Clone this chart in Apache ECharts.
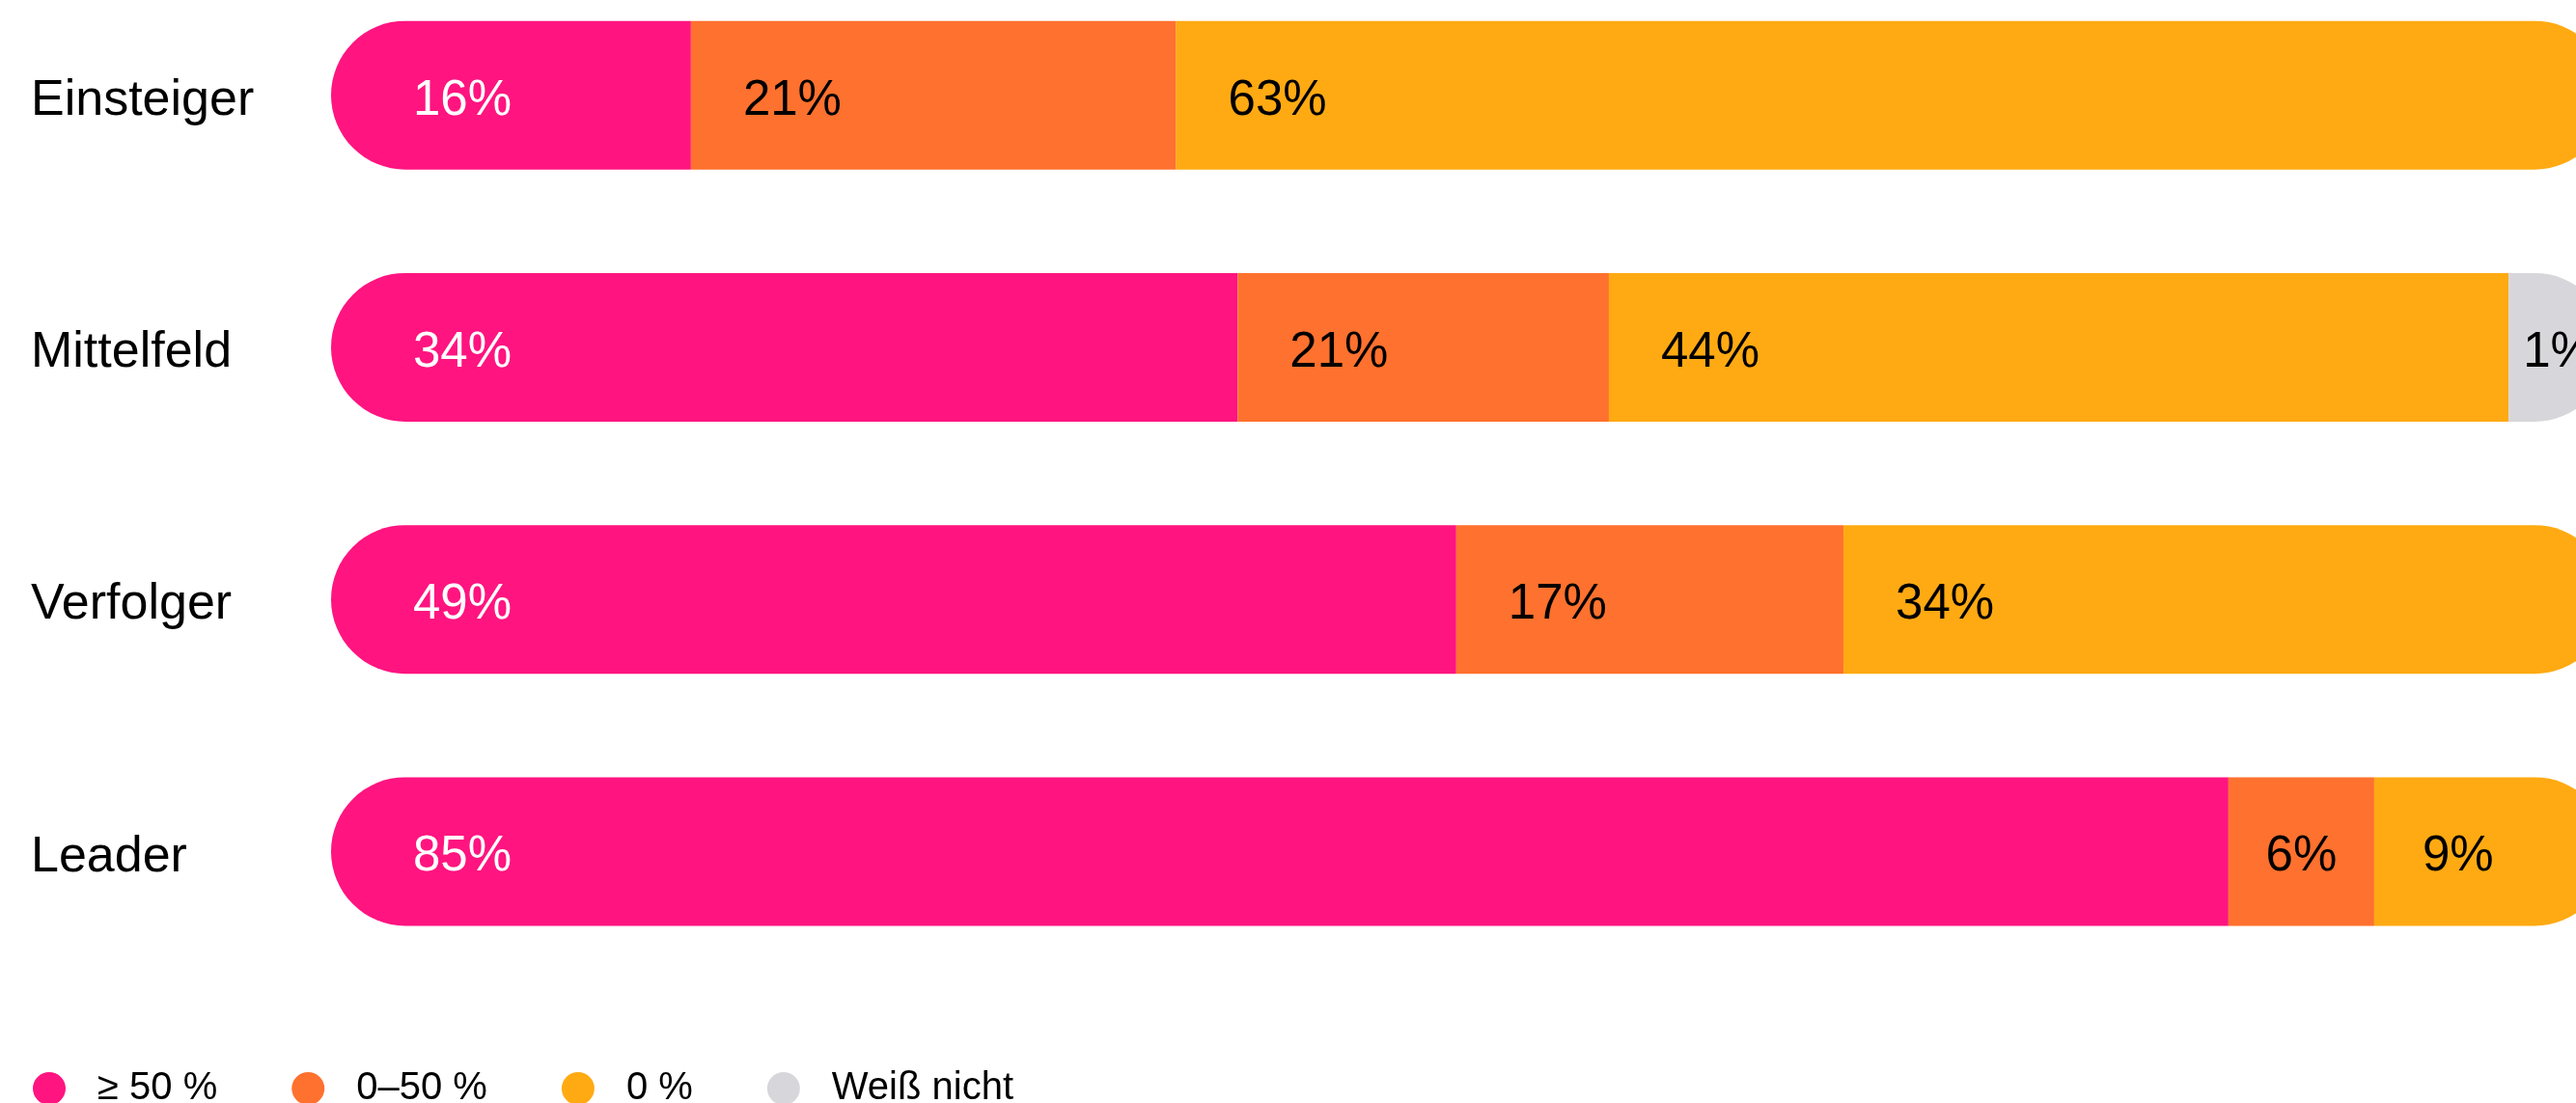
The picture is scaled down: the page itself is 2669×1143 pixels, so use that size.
<!DOCTYPE html>
<html>
<head>
<meta charset="utf-8">
<script src="https://cdn.jsdelivr.net/npm/echarts@6/dist/echarts.min.js"></script>
<style>
html,body{margin:0;padding:0;background:#fff;}
#c{width:2669px;height:1143px;}
</style>
</head>
<body>
<div id="c"></div>
<script>
// Categories (top to bottom)
const categories = ['Einsteiger', 'Mittelfeld', 'Verfolger', 'Leader'];
const seriesNames = ['≥ 50 %', '0–50 %', '0 %', 'Weiß nicht'];
const colors = ['#ff1480', '#ff712e', '#ffaa12', '#d7d6db'];

// Printed percentages (labels)
const pinkLabel   = [16, 34, 49, 85];
const orangeLabel = [21, 21, 17, 6];
const yellowLabel = [63, 44, 34, 9];
const greyLabel   = [null, 1, null, null];

// Segment lengths as drawn in the picture (share of bar, %)
const pinkLen   = [15.8, 39.8, 49.4, 83.3];
const orangeLen = [21.3, 16.3, 17.0, 6.4];
const yellowLen = [62.9, 39.5, 33.6, 10.3];
const greyLen   = [null, 4.4, null, null];

const R = 77;
const FONT = '"Liberation Sans", Arial, sans-serif';

function buildSeries(idx, lens, labels, textColor, dist) {
  const data = lens.map((v, i) => {
    if (v === null) return '-';
    const item = { value: v, label: { formatter: labels[i] + '%' } };
    const isFirst = idx === 0;
    const isLast = (idx === 3) || (idx === 2 && greyLen[i] === null);
    item.itemStyle = { borderRadius: [isFirst ? R : 0, isLast ? R : 0, isLast ? R : 0, isFirst ? R : 0] };
    return item;
  });
  return {
    name: seriesNames[idx],
    type: 'bar',
    stack: 'total',
    barWidth: 154,
    data: data,
    itemStyle: { color: colors[idx] },
    label: {
      show: true,
      position: 'insideLeft',
      distance: dist,
      offset: [0, 6],
      color: textColor,
      fontSize: 51,
      fontFamily: FONT
    },
    emphasis: { disabled: true },
    silent: true
  };
}

const s0 = buildSeries(0, pinkLen, pinkLabel, '#ffffff', 85);
const s1 = buildSeries(1, orangeLen, orangeLabel, '#000000', 54);
const s2 = buildSeries(2, yellowLen, yellowLabel, '#000000', 54);
const s3 = buildSeries(3, greyLen, greyLabel, '#000000', 15);
s1.data[3].label.position = 'inside';
s2.data[3].label.distance = 50;

const chart = echarts.init(document.getElementById('c'), null, { renderer: 'canvas' });
chart.setOption({
  backgroundColor: '#ffffff',
  animation: false,
  grid: { left: 343, right: -34, top: -32, height: 1045, containLabel: false, outerBoundsMode: 'none' },
  xAxis: { type: 'value', min: 0, max: 100, show: false },
  yAxis: {
    type: 'category',
    inverse: true,
    data: categories,
    axisLine: { show: false },
    axisTick: { show: false },
    splitLine: { show: false },
    axisLabel: { align: 'left', verticalAlign: 'top', lineHeight: 12, margin: 311, color: '#000', fontSize: 52, fontFamily: FONT }
  },
  legend: {
    left: 29,
    top: 1103,
    icon: 'circle',
    itemWidth: 34,
    itemHeight: 34,
    itemGap: 77,
    selectedMode: false,
    data: seriesNames,
    textStyle: { fontSize: 40, color: '#000', fontFamily: FONT, padding: [4, 0, 0, 28] }
  },
  series: [s0, s1, s2, s3]
});
</script>
</body>
</html>
